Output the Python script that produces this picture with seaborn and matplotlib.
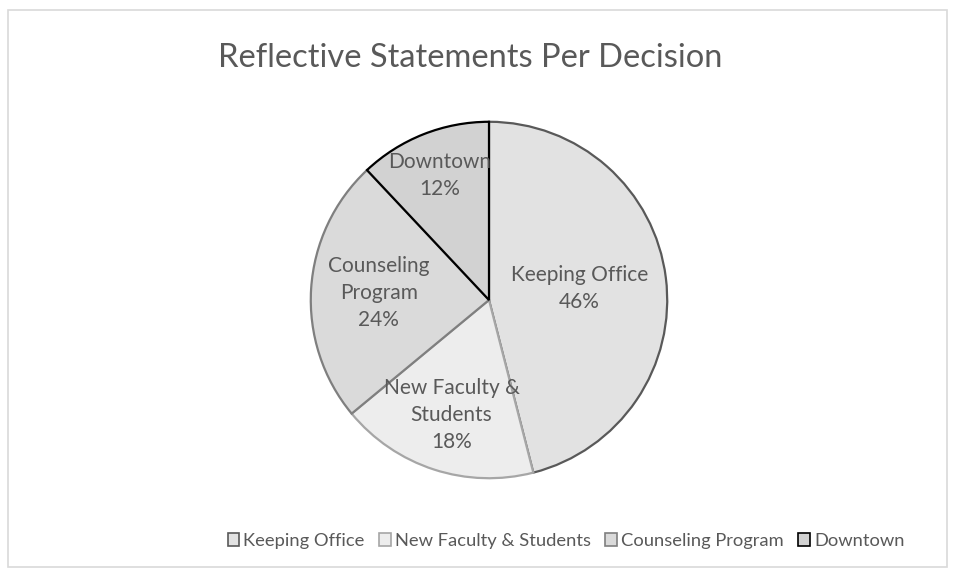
import matplotlib
matplotlib.use("Agg")
import matplotlib.pyplot as plt
import seaborn as sns
import numpy as np
from matplotlib.patches import Rectangle

categories = ["Keeping Office", "New Faculty & Students", "Counseling Program", "Downtown"]
slice_labels = ["Keeping Office", "New Faculty &\nStudents", "Counseling\nProgram", "Downtown"]
values = [46, 18, 24, 12]

fills = ["#e2e2e2", "#ededed", "#dadada", "#d2d2d2"]
edges = ["#595959", "#a6a6a6", "#7f7f7f", "#000000"]
label_dist = [0.51, 0.68, 0.62, 0.75]

sns.set_style("white")
plt.rcParams['font.family'] = ['Lato', 'DejaVu Sans']

W, H = 956, 577
fig = plt.figure(figsize=(W / 100, H / 100), dpi=100)

# chart frame
fig.patches.append(Rectangle((8 / W, 1 - 567 / H), 939 / W, 557 / H, transform=fig.transFigure,
                             fill=False, edgecolor="#d9d9d9", linewidth=1.2))

cx, cy, r = 489, 300, 180
ax = fig.add_axes([(cx - r) / W, (H - cy - r) / H, 2 * r / W, 2 * r / H])
wedges, _ = ax.pie(values, startangle=90, counterclock=False, colors=fills,
                   wedgeprops={'linewidth': 1.6})
for w, ec in zip(wedges, edges):
    w.set_edgecolor(ec)

tot = sum(values)
for w, lab, v, d in zip(wedges, slice_labels, values, label_dist):
    ang = np.deg2rad((w.theta1 + w.theta2) / 2)
    ax.text(d * np.cos(ang), d * np.sin(ang), f"{lab}\n{round(100 * v / tot)}%",
            ha="center", va="center", color="#595959", fontsize=15, linespacing=1.45)
ax.set_xlim(-1.01, 1.01)
ax.set_ylim(-1.01, 1.01)
ax.set_aspect("equal")

fig.text(470 / W, 1 - 58 / H, "Reflective Statements Per Decision", ha="center", va="center",
         color="#595959", fontsize=23.5)

handles = [Rectangle((0, 0), 1, 1, facecolor=f, edgecolor=e, linewidth=1.2) for f, e in zip(fills, edges)]
fig.legend(handles, categories, loc="center", bbox_to_anchor=(566 / W, 1 - 541 / H), ncol=4,
           frameon=False, fontsize=13.2, labelcolor="#595959", handlelength=0.65, handleheight=0.65,
           handletextpad=0.2, columnspacing=0.8)

plt.savefig("out.png", dpi=100)
